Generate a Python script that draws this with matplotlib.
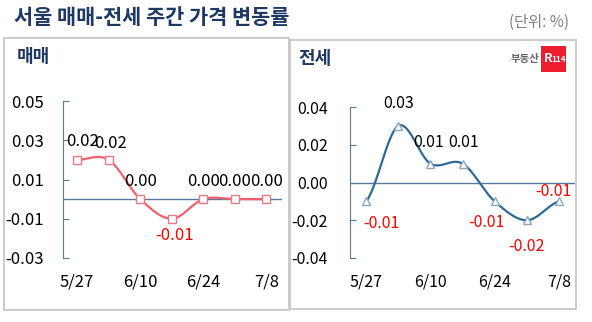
import numpy as np
import matplotlib
matplotlib.use("Agg")
import matplotlib.pyplot as plt
from matplotlib.patches import Rectangle

plt.rcParams['font.family'] = ['Noto Sans CJK KR', 'DejaVu Sans']

# data
weeks = ["5/27", "6/3", "6/10", "6/17", "6/24", "7/1", "7/8"]
sale = [0.02, 0.02, 0.00, -0.01, 0.00, 0.00, 0.00]
jeonse = [-0.01, 0.03, 0.01, 0.01, -0.01, -0.02, -0.01]
sale_ticks = [-0.03, -0.01, 0.01, 0.03, 0.05]
jeonse_ticks = [-0.04, -0.02, 0.00, 0.02, 0.04]

# label offsets in points (dx, dy)
sale_off = [(4, 13), (1, 12), (0, 13), (2, -12), (0, 13), (0, 13), (0, 13)]
jeonse_off = [(11, -16), (0, 16), (-1, 15), (1, 15), (-6, -15), (0, -19), (-4, 7)]

NAVY = "#1f3864"
AXC = "#5b7a9a"


def smooth(y, n=30):
    # catmull-rom curve through the points, like excel's smoothed line
    x = np.arange(len(y), dtype=float)
    y = np.asarray(y, dtype=float)
    px = np.concatenate([[2 * x[0] - x[1]], x, [2 * x[-1] - x[-2]]])
    py = np.concatenate([[y[0]], y, [y[-1]]])
    xs, ys = [], []
    for i in range(1, len(px) - 2):
        t = np.linspace(0, 1, n)
        for p, out in ((px, xs), (py, ys)):
            p0, p1, p2, p3 = p[i - 1], p[i], p[i + 1], p[i + 2]
            out.append(0.5 * ((2 * p1) + (-p0 + p2) * t
                              + (2 * p0 - 5 * p1 + 4 * p2 - p3) * t ** 2
                              + (-p0 + 3 * p1 - 3 * p2 + p3) * t ** 3))
    return np.concatenate(xs), np.concatenate(ys)


def panel(ax, vals, ticks, offs, lcol, mcol, marker, ms, xlim, pad, fs):
    xs, ys = smooth(vals)
    ax.axhline(0, color=AXC, lw=1.0, zorder=1)
    ax.plot(xs, ys, color=lcol, lw=1.6, zorder=2)
    ax.plot(range(len(vals)), vals, ls="none", marker=marker, ms=ms,
            mfc="white", mec=mcol, mew=1.0, zorder=3)
    for i, v in enumerate(vals):
        ax.annotate(f"{v:.2f}", (i, v), xytext=offs[i], textcoords="offset points",
                    ha="center", va="center", fontsize=fs,
                    color="#ff0000" if v < 0 else "black")
    ax.set_xlim(*xlim)
    ax.set_ylim(ticks[0], ticks[-1])
    ax.set_yticks(ticks)
    ax.set_yticklabels([f"{t:.2f}" for t in ticks])
    ax.set_xticks(range(0, len(weeks), 2))
    ax.set_xticklabels(weeks[::2])
    for s in ["top", "right", "bottom"]:
        ax.spines[s].set_visible(False)
    ax.spines["left"].set_color(AXC)
    ax.tick_params(axis="y", direction="in", length=4, color=AXC, pad=pad, labelsize=fs)
    ax.tick_params(axis="x", length=0, pad=11, labelsize=fs)
    ax.patch.set_alpha(0)


fig = plt.figure(figsize=(5.92, 3.22), dpi=100)
W, H = 592, 322


def fx(px):
    return px / W


def fy(py):
    return 1 - py / H


# panel boxes
fig.patches.append(Rectangle((fx(4), fy(310)), fx(289) - fx(4), fy(38) - fy(310),
                             transform=fig.transFigure, fill=False, ec="#c8c8c8", lw=1.3))
fig.patches.append(Rectangle((fx(290), fy(309)), fx(576) - fx(290), fy(40) - fy(309),
                             transform=fig.transFigure, fill=False, ec="#c8c8c8", lw=1.3))

fig.text(fx(14), fy(18), "서울 매매-전세 주간 가격 변동률", fontsize=15, fontweight="bold",
         color=NAVY, ha="left", va="center")
fig.text(fx(569), fy(22), "(단위: %)", fontsize=11, color="#808080", ha="right", va="center")
fig.text(fx(17), fy(56), "매매", fontsize=13, fontweight="bold", color=NAVY, ha="left", va="center")
fig.text(fx(298), fy(58), "전세", fontsize=13, fontweight="bold", color=NAVY, ha="left", va="center")

# logo
fig.text(fx(539), fy(59), "부동산", fontsize=7.5, fontweight="bold", color="#666666",
         ha="right", va="center")
fig.patches.append(Rectangle((fx(541), fy(72)), fx(566) - fx(541), fy(46) - fy(72),
                             transform=fig.transFigure, fc="#ed1c2e", ec="none"))
fig.text(fx(548), fy(59), "R", fontsize=9, fontweight="bold", color="white",
         ha="center", va="center")
fig.text(fx(558.5), fy(59), "114", fontsize=6, fontweight="bold", color="white",
         ha="center", va="center")

ax1 = fig.add_axes([fx(63), fy(258), fx(282) - fx(63), fy(101) - fy(258)])
panel(ax1, sale, sale_ticks, sale_off, "#f0606c", "#f07a84", "s", 5.5, (-0.45, 6.5), 14, 12)

ax2 = fig.add_axes([fx(350), fy(258), fx(575) - fx(350), fy(107) - fy(258)])
panel(ax2, jeonse, jeonse_ticks, jeonse_off, "#2f6a96", "#8aa6c0", "^", 6, (-0.5, 6.5), 16, 11.5)

fig.savefig("out.png", dpi=100)
